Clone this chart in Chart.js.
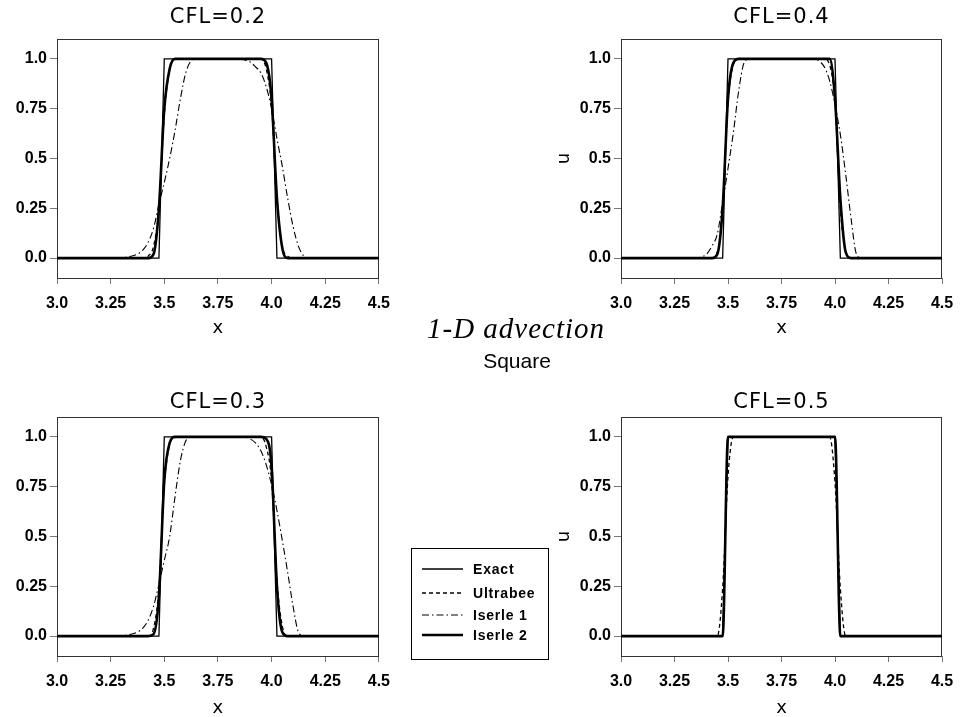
<!DOCTYPE html>
<html>
<head>
<meta charset="utf-8">
<script src="https://cdn.jsdelivr.net/npm/chart.js@4.4.1/dist/chart.umd.min.js"></script>
<style>
  body { margin: 0; background: #fff; }
  #page { position: relative; width: 964px; height: 717px; overflow: hidden; background: #fff; }
  .panel { position: absolute; }
  .cfl { position: absolute; text-align: center; font-family: "DejaVu Sans", sans-serif; font-size: 21px; letter-spacing: 1px; line-height: 24px; color: #000; }
  #main-title { position: absolute; left: 427px; top: 312px; font-family: "Liberation Serif", serif; font-style: italic; font-size: 29px; letter-spacing: 1px; line-height: 32px; white-space: nowrap; }
  #sub-title { position: absolute; left: 417px; top: 349px; width: 200px; text-align: center; font-family: "Liberation Sans", sans-serif; font-size: 21px; line-height: 24px; }
  #legend { position: absolute; left: 411px; top: 548px; width: 136px; height: 110px; border: 1px solid #000; background: #fff; }
  .key { position: absolute; left: 10px; height: 20px; width: 130px; }
  .key svg { position: absolute; left: 0; top: 5px; }
  .key span { position: absolute; left: 51px; top: 1px; font-family: "Liberation Sans", sans-serif; font-weight: bold; font-size: 14px; letter-spacing: 0.8px; line-height: 18px; }
</style>
</head>
<body>
<div id="page">
  <div class="panel" style="left:0;top:0"><canvas id="cfl02" width="400" height="340"></canvas></div>
  <div class="panel" style="left:550px;top:0"><canvas id="cfl04" width="414" height="340"></canvas></div>
  <div class="panel" style="left:0;top:380px"><canvas id="cfl03" width="400" height="339"></canvas></div>
  <div class="panel" style="left:550px;top:380px"><canvas id="cfl05" width="414" height="339"></canvas></div>

  <div class="cfl" style="left:57px;top:4px;width:322px">CFL=0.2</div>
  <div class="cfl" style="left:621px;top:4px;width:321px">CFL=0.4</div>
  <div class="cfl" style="left:57px;top:389px;width:322px">CFL=0.3</div>
  <div class="cfl" style="left:621px;top:389px;width:321px">CFL=0.5</div>

  <div id="main-title">1-D advection</div>
  <div id="sub-title">Square</div>

  <div id="legend"></div>
</div>

<script>
// grid points of the solution (dx = 0.025 around the square)
let xGrid = [3.0,
  3.3, 3.325, 3.35, 3.375, 3.4, 3.425, 3.45, 3.475,
  3.5, 3.525, 3.55, 3.575, 3.6, 3.625, 3.65, 3.675, 3.7, 3.725, 3.75,
  3.775, 3.8, 3.825, 3.85, 3.875, 3.9, 3.925, 3.95, 3.975, 4.0,
  4.025, 4.05, 4.075, 4.1, 4.125, 4.15, 4.175, 4.2,
  4.5];

let seriesNames = ['Exact', 'Ultrabee', 'Iserle 1', 'Iserle 2'];
let xTickValues = [3.0, 3.25, 3.5, 3.75, 4.0, 4.25, 4.5];
let xTickLabels = ['3.0', '3.25', '3.5', '3.75', '4.0', '4.25', '4.5'];
let yTickValues = [0, 0.25, 0.5, 0.75, 1.0];
let yTickLabels = ['0.0', '0.25', '0.5', '0.75', '1.0'];

let exactU = [0,
  0, 0, 0, 0, 0, 0, 0, 0,
  1, 1, 1, 1, 1, 1, 1, 1, 1, 1, 1,
  1, 1, 1, 1, 1, 1, 1, 1, 1, 1,
  0, 0, 0, 0, 0, 0, 0, 0,
  0];

// CFL = 0.2
let ultrabee02 = [0,
  0, 0, 0, 0, 0, 0.01, 0.06, 0.25,
  0.72, 0.95, 1, 1, 1, 1, 1, 1, 1, 1, 1,
  1, 1, 1, 1, 1, 1, 1, 1, 0.95, 0.76,
  0.3, 0.06, 0.01, 0, 0, 0, 0, 0,
  0];
let iserle1_02 = [0,
  0, 0.005, 0.01, 0.02, 0.04, 0.08, 0.15, 0.27,
  0.38, 0.5, 0.64, 0.8, 0.93, 0.99, 1, 1, 1, 1, 1,
  1, 1, 1, 1, 0.995, 0.985, 0.96, 0.93, 0.86, 0.75,
  0.6, 0.46, 0.3, 0.16, 0.06, 0.01, 0, 0,
  0];
let iserle2_02 = [0,
  0, 0, 0, 0, 0, 0, 0.02, 0.25,
  0.75, 0.95, 1, 1, 1, 1, 1, 1, 1, 1, 1,
  1, 1, 1, 1, 1, 1, 1, 1, 0.98, 0.8,
  0.3, 0.05, 0, 0, 0, 0, 0, 0,
  0];

// CFL = 0.3
let ultrabee03 = [0,
  0, 0, 0, 0, 0, 0, 0.04, 0.24,
  0.76, 0.96, 1, 1, 1, 1, 1, 1, 1, 1, 1,
  1, 1, 1, 1, 1, 1, 1, 1, 0.95, 0.78,
  0.28, 0.05, 0, 0, 0, 0, 0, 0,
  0];
let iserle1_03 = [0,
  0, 0.005, 0.01, 0.02, 0.04, 0.08, 0.15, 0.26,
  0.38, 0.5, 0.7, 0.88, 0.98, 1, 1, 1, 1, 1, 1,
  1, 1, 1, 1, 1, 0.99, 0.97, 0.93, 0.86, 0.76,
  0.63, 0.48, 0.32, 0.15, 0.02, 0, 0, 0,
  0];
let iserle2_03 = [0,
  0, 0, 0, 0, 0, 0, 0.01, 0.2,
  0.78, 0.97, 1, 1, 1, 1, 1, 1, 1, 1, 1,
  1, 1, 1, 1, 1, 1, 1, 1, 0.99, 0.85,
  0.25, 0.02, 0, 0, 0, 0, 0, 0,
  0];

// CFL = 0.4
let ultrabee04 = [0,
  0, 0, 0, 0, 0, 0, 0.03, 0.27,
  0.78, 0.97, 1, 1, 1, 1, 1, 1, 1, 1, 1,
  1, 1, 1, 1, 1, 1, 1, 1, 0.97, 0.78,
  0.25, 0.03, 0, 0, 0, 0, 0, 0,
  0];
let iserle1_04 = [0,
  0, 0, 0, 0.005, 0.02, 0.06, 0.12, 0.28,
  0.45, 0.63, 0.84, 0.98, 1, 1, 1, 1, 1, 1, 1,
  1, 1, 1, 1, 1, 1, 0.99, 0.96, 0.89, 0.77,
  0.62, 0.42, 0.2, 0.02, 0, 0, 0, 0,
  0];
let iserle2_04 = [0,
  0, 0, 0, 0, 0, 0, 0.02, 0.25,
  0.8, 0.98, 1, 1, 1, 1, 1, 1, 1, 1, 1,
  1, 1, 1, 1, 1, 1, 1, 1, 1, 0.8,
  0.3, 0.03, 0, 0, 0, 0, 0, 0,
  0];

// CFL = 0.5 (both Iserle schemes are exact here)
let ultrabee05 = [0,
  0, 0, 0, 0, 0, 0, 0, 0.24,
  0.8, 1, 1, 1, 1, 1, 1, 1, 1, 1, 1,
  1, 1, 1, 1, 1, 1, 1, 1, 1, 0.77,
  0.24, 0, 0, 0, 0, 0, 0, 0,
  0];
let iserle1_05 = [0,
  0, 0, 0, 0, 0, 0, 0, 0,
  1, 1, 1, 1, 1, 1, 1, 1, 1, 1, 1,
  1, 1, 1, 1, 1, 1, 1, 1, 1, 1,
  0, 0, 0, 0, 0, 0, 0, 0,
  0];
let iserle2_05 = [0,
  0, 0, 0, 0, 0, 0, 0, 0,
  1, 1, 1, 1, 1, 1, 1, 1, 1, 1, 1,
  1, 1, 1, 1, 1, 1, 1, 1, 1, 1,
  0, 0, 0, 0, 0, 0, 0, 0,
  0];

// line look for Exact, Ultrabee, Iserle 1, Iserle 2
let lineStyles = [
  {width: 1.3, dash: [], smooth: false},
  {width: 1.3, dash: [4, 3], smooth: true},
  {width: 1.1, dash: [7, 3, 1.5, 3], smooth: true},
  {width: 2.6, dash: [], smooth: true}
];

function toPoints(ys) {
  return xGrid.map(function (x, i) { return {x: x, y: ys[i]}; });
}

// plain box round the plotting region
const frameBox = {
  id: 'frameBox',
  beforeDatasetsDraw(chart) {
    let a = chart.chartArea;
    let ctx = chart.ctx;
    ctx.save();
    ctx.strokeStyle = '#333';
    ctx.lineWidth = 1;
    ctx.strokeRect(Math.round(a.left) + 0.5, Math.round(a.top) + 0.5,
      Math.round(a.right - a.left) - 1, Math.round(a.bottom - a.top));
    ctx.restore();
  }
};

function makePanel(id, series, box) {
  let datasets = series.map(function (ys, i) {
    let st = lineStyles[i];
    return {
      label: seriesNames[i],
      data: toPoints(ys),
      borderColor: '#000',
      borderWidth: st.width,
      borderDash: st.dash,
      pointRadius: 0,
      fill: false,
      cubicInterpolationMode: st.smooth ? 'monotone' : 'default',
      tension: 0
    };
  });

  let tickFont = {family: 'Liberation Sans', size: 16, weight: 'bold'};

  new Chart(document.getElementById(id), {
    type: 'line',
    data: {datasets: datasets},
    plugins: [frameBox],
    options: {
      responsive: false,
      animation: false,
      layout: {padding: {top: box.top, right: box.right, left: 0, bottom: 0}},
      plugins: {legend: {display: false}, tooltip: {enabled: false}},
      scales: {
        x: {
          type: 'linear',
          min: 3.0,
          max: 4.5,
          afterBuildTicks: function (scale) {
            scale.ticks = xTickValues.map(function (v) { return {value: v}; });
          },
          afterFit: function (scale) { scale.height = box.xHeight; },
          ticks: {
            autoSkip: false,
            maxRotation: 0,
            padding: 10,
            color: '#000',
            font: tickFont,
            callback: function (v, i) { return xTickLabels[i]; }
          },
          grid: {display: true, drawOnChartArea: false, drawTicks: true, tickLength: 6, color: '#777'},
          border: {display: false},
          title: {display: true, text: 'x', color: '#000',
            font: {family: 'DejaVu Sans', size: 18}, padding: {top: 0, bottom: box.titleGap}}
        },
        y: {
          min: -0.1,
          max: 1.1,
          afterBuildTicks: function (scale) {
            scale.ticks = yTickValues.map(function (v) { return {value: v}; });
          },
          afterFit: function (scale) { scale.width = box.yWidth; },
          ticks: {
            padding: 3,
            color: '#000',
            font: tickFont,
            callback: function (v, i) { return yTickLabels[i]; }
          },
          grid: {display: true, drawOnChartArea: false, drawTicks: true, tickLength: 7, color: '#777'},
          border: {display: false},
          title: {display: box.showU, text: 'u', color: '#000',
            font: {family: 'DejaVu Sans', size: 18}, padding: {top: 4, bottom: 0}}
        }
      }
    }
  });
}

makePanel('cfl02', [exactU, ultrabee02, iserle1_02, iserle2_02],
  {top: 39, right: 21, yWidth: 57, xHeight: 62, titleGap: 1, showU: false});
makePanel('cfl04', [exactU, ultrabee04, iserle1_04, iserle2_04],
  {top: 39, right: 22, yWidth: 71, xHeight: 62, titleGap: 1, showU: true});
makePanel('cfl03', [exactU, ultrabee03, iserle1_03, iserle2_03],
  {top: 37, right: 21, yWidth: 57, xHeight: 63, titleGap: 0, showU: false});
makePanel('cfl05', [exactU, ultrabee05, iserle1_05, iserle2_05],
  {top: 37, right: 22, yWidth: 71, xHeight: 63, titleGap: 0, showU: true});

// legend keys, same line looks as the curves
function renderLegend() {
  let legend = document.getElementById('legend');
  let rowTops = [10, 34, 56, 76];
  for (let i = 0; i < seriesNames.length; i++) {
    let st = lineStyles[i];
    let row = document.createElement('div');
    row.className = 'key';
    row.style.top = rowTops[i] + 'px';
    row.innerHTML = '<svg width="42" height="10"><line x1="0" y1="5" x2="41" y2="5" stroke="#000" stroke-width="' +
      st.width + '" stroke-dasharray="' + (st.dash.length ? st.dash.join(',') : 'none') + '"/></svg>' +
      '<span>' + seriesNames[i] + '</span>';
    legend.appendChild(row);
  }
}
renderLegend();
</script>
</body>
</html>
